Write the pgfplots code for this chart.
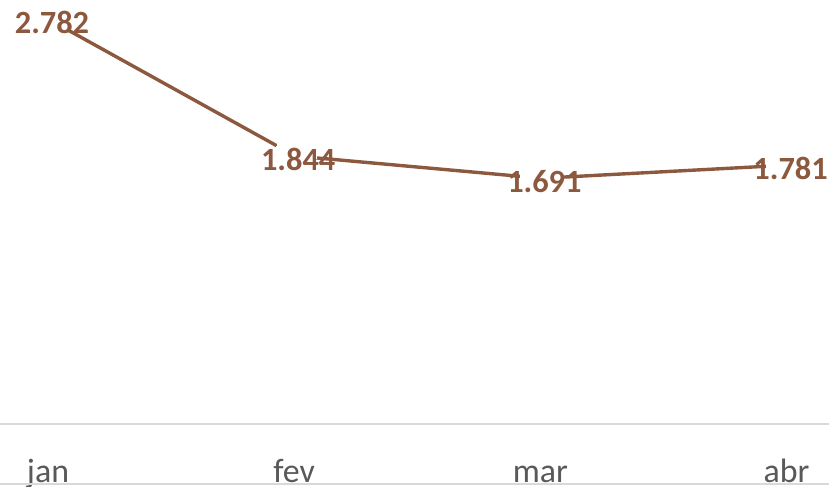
\documentclass[border=0pt]{standalone}
\usepackage{pgfplots}
\pgfplotsset{compat=1.18}
\usepackage{fontspec}
\setmainfont{Carlito}
\definecolor{brn}{RGB}{140,88,62}
\definecolor{tickgray}{RGB}{89,89,89}
\definecolor{axgray}{RGB}{217,217,217}
\begin{document}
\begin{tikzpicture}[x=1bp,y=1bp]
\useasboundingbox (0,0) rectangle (829,487);
\begin{scope}
\clip (0,0) rectangle (829,487);
\begin{axis}[
 scale only axis, width=984.8bp, height=436.5bp,
 at={(-74.1bp,62.7bp)}, anchor=south west,
 xmin=-0.5, xmax=3.5, ymin=0, ymax=3,
 axis y line=none, axis x line*=bottom,
 x axis line style={-, draw=axgray, line width=1.6bp},
 xtick={0,1,2,3}, xticklabels={jan,fev,mar,abr},
 major tick length=0pt,
 xticklabel style={anchor=base, yshift=-58bp, xshift=-1bp, font=\fontsize{34}{40}\selectfont, text=tickgray},
 clip=false,
]
\addplot[brn, line width=3.4bp, mark=*, mark size=21bp,
  mark options={fill=white, draw=white, line width=0pt},
  nodes near coords, point meta=explicit symbolic,
  nodes near coords style={anchor=center, yshift=-3bp, xshift=3bp, text=brn, font=\fontsize{32.5}{38}\selectfont\bfseries}]
 coordinates {(0,2.782) [2.782] (1,1.844) [1.844] (2,1.691) [1.691] (3,1.781) [1.781]};
\end{axis}
\draw[axgray, line width=1.5bp] (0,3) -- (829,3);
\end{scope}
\end{tikzpicture}
\end{document}
